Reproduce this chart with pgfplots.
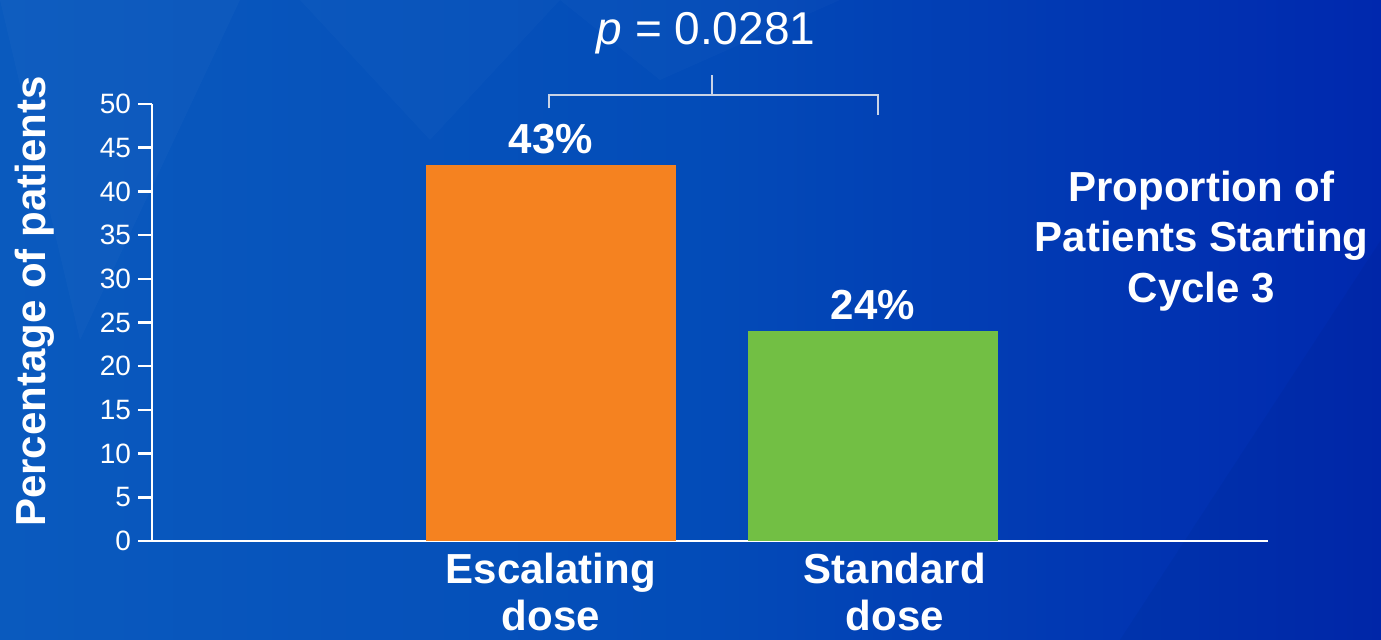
\documentclass[border=0pt]{standalone}
\usepackage{pgfplots}
\pgfplotsset{compat=1.18}
\usepackage{fontspec}
\setmainfont{Liberation Sans}

\definecolor{bgA}{HTML}{0A5ABE}
\definecolor{bgB}{HTML}{034CB8}
\definecolor{bgC}{HTML}{0028AE}
\definecolor{barOrange}{HTML}{F58220}
\definecolor{barGreen}{HTML}{72BF44}
\definecolor{bracket}{HTML}{C9D3E6}

% 1 px of the slide = 0.5 pt
\newcommand{\bigbold}{\fontsize{21}{23.5}\selectfont\bfseries}

\begin{document}
\begin{tikzpicture}
% slide background
\shade[left color=bgA, right color=bgC, middle color=bgB] (0,0) rectangle (690.5pt,320pt);
\fill[white, opacity=0.025] (0pt,320pt) -- (120pt,320pt) -- (40pt,150pt) -- cycle;
\fill[white, opacity=0.02] (150pt,320pt) -- (280pt,320pt) -- (215pt,250pt) -- cycle;
\fill[white, opacity=0.02] (280pt,320pt) -- (420pt,320pt) -- (330pt,280pt) -- cycle;
\fill[black, opacity=0.03] (560pt,0pt) -- (690.5pt,0pt) -- (690.5pt,200pt) -- cycle;

\begin{axis}[
  at={(76pt,49.5pt)}, anchor=south west,
  scale only axis,
  width=558pt, height=218.5pt,
  clip=false,
  axis x line*=bottom, axis y line*=left,
  axis line style={white, line width=1.25pt, -},
  xmin=-1.239, xmax=2.227,
  ymin=0, ymax=50,
  ytick={0,5,...,50},
  xtick={0,1.068},
  xticklabels={Escalating\\dose, Standard\\dose},
  x tick style={draw=none},
  y tick style={white, line width=1.25pt},
  tick align=outside,
  major tick length=7pt,
  /pgf/number format/assume math mode=true,
  yticklabel style={text=white, font=\fontsize{14}{16}\selectfont},
  xticklabel style={text=white, font=\bigbold, align=center, anchor=north, inner sep=0pt, yshift=1pt},
  ybar, bar width=125pt, bar shift=0pt,
  nodes near coords={\pgfmathprintnumber{\pgfplotspointmeta}\%},
  nodes near coords style={text=white, font=\bigbold, anchor=base, yshift=6pt},
]
\addplot[fill=barOrange, draw=none] coordinates {(0,43)};
\addplot[fill=barGreen, draw=none] coordinates {(1,24)};
\end{axis}

% significance bracket
\begin{axis}[
  at={(76pt,49.5pt)}, anchor=south west,
  scale only axis, width=558pt, height=218.5pt,
  xmin=-1.239, xmax=2.227, ymin=0, ymax=50,
  hide axis, clip=false,
]
\addplot[bracket, line width=1pt] coordinates {(-0.006,49.5) (-0.006,51.0) (1.016,51.0) (1.016,48.7)};
\addplot[bracket, line width=1pt] coordinates {(0.5,51.0) (0.5,53.3)};
\end{axis}

% texts around the plot
\node[anchor=base, text=white, font=\fontsize{23}{26}\selectfont, inner sep=0pt] at (353pt,297.5pt) {\textit{p} = 0.0281};
\node[rotate=90, anchor=north, text=white, font=\bigbold, inner sep=0pt] at (7.5pt,169.25pt) {Percentage of patients};
\node[anchor=base, text=white, font=\bigbold, inner sep=0pt] at (600.75pt,219pt) {Proportion of};
\node[anchor=base, text=white, font=\bigbold, inner sep=0pt] at (600.75pt,194pt) {Patients Starting};
\node[anchor=base, text=white, font=\bigbold, inner sep=0pt] at (600.75pt,168.5pt) {Cycle 3};

\pgfresetboundingbox
\useasboundingbox (0,0) rectangle (690.5pt,320pt);
\end{tikzpicture}
\end{document}
